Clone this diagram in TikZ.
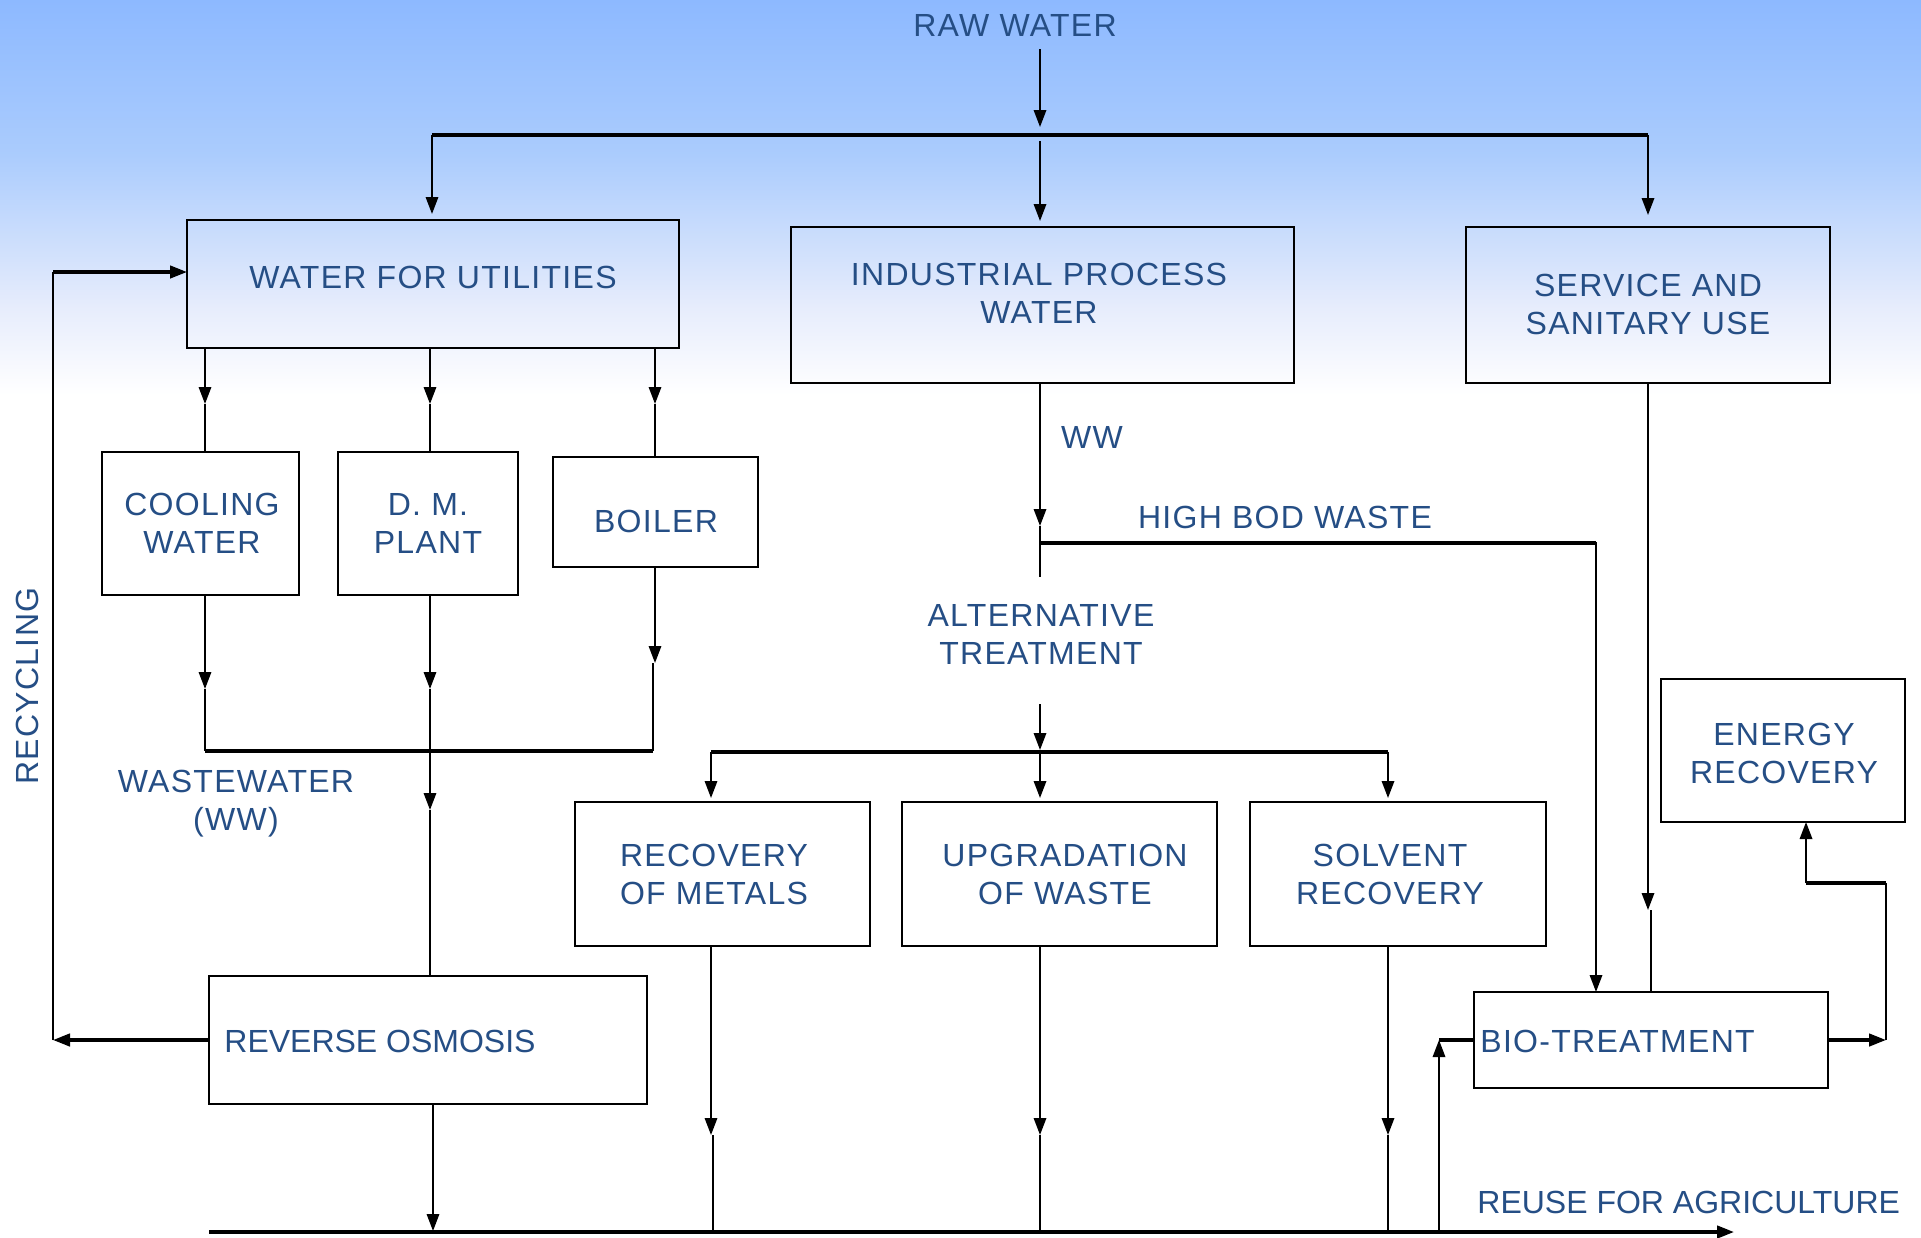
\documentclass[tikz,border=0pt]{standalone}
\usepackage{fontspec}
\setmainfont{Liberation Sans}[LetterSpace=4]
\newfontfamily\tightsans{Liberation Sans}
\usetikzlibrary{arrows.meta,fit}

\definecolor{ink}{RGB}{37,78,133}
\definecolor{skyA}{RGB}{141,185,255}
\definecolor{skyB}{RGB}{171,204,253}
\definecolor{skyC}{RGB}{230,236,252}

\begin{document}
\begin{tikzpicture}[x=0.5pt,y=-0.5pt,
  box/.style={draw=black, line width=1.2pt, inner sep=0pt, outer sep=0pt},
  lbl/.style={text=ink, font=\fontsize{16}{19}\selectfont, align=center, inner sep=0pt},
  tight/.style={font=\fontsize{16}{19}\selectfont\tightsans},
  ln/.style={line width=1pt},
  bar/.style={line width=1.6pt},
  tip/.style={-{Triangle[length=8.5pt,width=6.2pt]}},
  arr/.style={ln, tip},
]
% page and sky backdrop
\useasboundingbox (0,0) rectangle (1921,1237);
\fill[white] (0,0) rectangle (1921,1237);
\shade[top color=skyA, bottom color=skyB] (0,0) rectangle (1921,156);
\shade[top color=skyB, bottom color=skyC] (0,155) rectangle (1921,306);
\shade[top color=skyC, bottom color=white] (0,305) rectangle (1921,395);

% ---------- boxes and labels ----------
\node[lbl] (raw) at (1015,25) {RAW WATER};

\node[box, fit={(187,220)(679,348)}] (util) {};
\node[lbl] (tutil) at (433,277) {WATER FOR UTILITIES};
\node[box, fit={(791,227)(1294,383)}] (ind) {};
\node[lbl] (tind) at (1039,293) {INDUSTRIAL PROCESS\\WATER};
\node[box, fit={(1466,227)(1830,383)}] (svc) {};
\node[lbl] (tsvc) at (1648,304) {SERVICE AND\\SANITARY USE};

\node[box, fit={(102,452)(299,595)}] (cool) {};
\node[lbl] (tcool) at (202,523) {COOLING\\WATER};
\node[box, fit={(338,452)(518,595)}] (dm) {};
\node[lbl] (tdm) at (428,523) {D. M.\\PLANT};
\node[box, fit={(553,457)(758,567)}] (boil) {};
\node[lbl] (tboil) at (656,521) {BOILER};

\node[lbl] (wwl) at (236,804) {WASTEWATER\\(WW)};
\node[lbl, rotate=90] (recy) at (27,686) {RECYCLING};
\node[lbl] (wwt) at (1092,437) {WW};
\node[lbl] (bod) at (1285,517) {HIGH BOD WASTE};
\node[lbl] (alt) at (1041,634) {ALTERNATIVE\\TREATMENT};

\node[box, fit={(1661,679)(1905,822)}] (en) {};
\node[lbl] (ten) at (1784,753) {ENERGY\\RECOVERY};

\node[box, fit={(575,802)(870,946)}] (rm) {};
\node[lbl] (trm) at (714,874) {RECOVERY\\OF METALS};
\node[box, fit={(902,802)(1217,946)}] (upg) {};
\node[lbl] (tupg) at (1065,874) {UPGRADATION\\OF WASTE};
\node[box, fit={(1250,802)(1546,946)}] (sol) {};
\node[lbl] (tsol) at (1390,874) {SOLVENT\\RECOVERY};

\node[box, fit={(209,976)(647,1104)}] (ro) {};
\node[lbl, tight, anchor=west] (tro) at (224,1041) {REVERSE OSMOSIS};
\node[box, fit={(1474,992)(1828,1088)}] (bio) {};
\node[lbl, anchor=west] (tbio) at (1480,1041) {BIO-TREATMENT};
\node[lbl, tight, anchor=west] (reuse) at (1477,1202) {REUSE FOR AGRICULTURE};

% ---------- junction points ----------
\coordinate (rwout) at (1040,49);
\coordinate (rwtip) at (1040,127);
\coordinate (splitL) at (432,135);
\coordinate (splitM) at (1040,141);
\coordinate (splitR) at (1648,135);

\coordinate (u1) at (205,404);
\coordinate (u2) at (430,404);
\coordinate (u3) at (655,404);

\coordinate (w1) at (205,689);
\coordinate (w2) at (430,689);
\coordinate (w3) at (655,663);
\coordinate (w3b) at (653,663);
\coordinate (wcol) at (205,751);
\coordinate (wcolR) at (653,751);
\coordinate (w2b) at (430,810);

\coordinate (wwtip) at (1040,526);
\coordinate (wwend) at (1040,577);
\coordinate (bodL) at (1040,543);
\coordinate (bodR) at (1596,543);

\coordinate (altin) at (1040,704);
\coordinate (alttip) at (1040,750);
\coordinate (abL) at (711,752);
\coordinate (abM) at (1040,752);
\coordinate (abR) at (1388,752);

\coordinate (m1) at (711,1135);
\coordinate (m1b) at (713,1135);
\coordinate (m2) at (1040,1135);
\coordinate (m3) at (1388,1135);
\coordinate (ro1) at (433,1231);
\coordinate (baseL) at (209,1232);
\coordinate (baseR) at (1734,1232);
\coordinate (bioIn) at (1439,1232);
\coordinate (bioUp) at (1439,1040);

\coordinate (s1) at (1648,910);
\coordinate (s1b) at (1651,910);

\coordinate (eR) at (1886,1040);
\coordinate (eC) at (1886,883);
\coordinate (eL) at (1806,883);

\coordinate (rcB) at (53,1040);
\coordinate (rcT) at (53,272);

% ---------- connectors ----------
% raw water split
\draw[arr] (rwout) -- (rwtip);
\draw[bar] (splitL) -- (splitR);
\draw[arr, shorten >=3pt] (splitL) -- (util.north -| splitL);
\draw[arr, shorten >=3pt] (splitM) -- (ind.north -| splitM);
\draw[arr, shorten >=6pt] (splitR) -- (svc.north -| splitR);

% utilities to users
\draw[arr] (util.south -| u1) -- (u1);
\draw[ln] (u1) -- (cool.north -| u1);
\draw[arr] (util.south -| u2) -- (u2);
\draw[ln] (u2) -- (dm.north -| u2);
\draw[arr] (util.south -| u3) -- (u3);
\draw[ln] (u3) -- (boil.north -| u3);

% users to wastewater collection
\draw[arr] (cool.south -| w1) -- (w1);
\draw[arr] (boil.south -| w3) -- (w3);
\draw[ln] (w1) -- (wcol);
\draw[ln] (w3b) -- (wcolR);
\draw[bar] (wcol) -- (wcolR);
\draw[arr] (dm.south -| w2) -- (w2);
\draw[arr] (w2) -- (w2b);
\draw[ln] (w2b) -- (ro.north -| w2b);

% recycling loop
\draw[bar, tip] (ro.west) -- (rcB);
\draw[ln] (rcB) -- (rcT);
\draw[bar, tip] (rcT) -- (util.west |- rcT);

% industrial wastewater
\draw[arr] (ind.south -| wwtip) -- (wwtip);
\draw[ln] (wwtip) -- (wwend);
\draw[arr] (bodL) -- (bodR) -- (bio.north -| bodR);
\draw[bar] (bodL) -- (bodR);

% alternative treatment
\draw[arr] (altin) -- (alttip);
\draw[bar] (abL) -- (abR);
\draw[arr, shorten >=2pt] (abL) -- (rm.north -| abL);
\draw[arr, shorten >=2pt] (abM) -- (upg.north -| abM);
\draw[arr, shorten >=2pt] (abR) -- (sol.north -| abR);

% to the common outlet
\draw[arr] (rm.south -| m1) -- (m1);
\draw[ln] (m1b) -- (m1b |- baseL);
\draw[arr] (upg.south -| m2) -- (m2);
\draw[ln] (m2) -- (m2 |- baseL);
\draw[arr] (sol.south -| m3) -- (m3);
\draw[ln] (m3) -- (m3 |- baseL);
\draw[arr] (ro.south -| ro1) -- (ro1);
\draw[bar, tip] (baseL) -- (baseR);

% bio-treatment
\draw[arr] (bioIn) -- (bioUp);
\draw[bar] (bioUp) -- (bio.west);
\draw[arr] (svc.south -| s1) -- (s1);
\draw[ln] (s1b) -- (bio.north -| s1b);

% energy recovery
\draw[bar, tip] (bio.east) -- (eR);
\draw[ln] (eR) -- (eC);
\draw[bar] (eC) -- (eL);
\draw[arr] (eL) -- (en.south -| eL);
\end{tikzpicture}
\end{document}
